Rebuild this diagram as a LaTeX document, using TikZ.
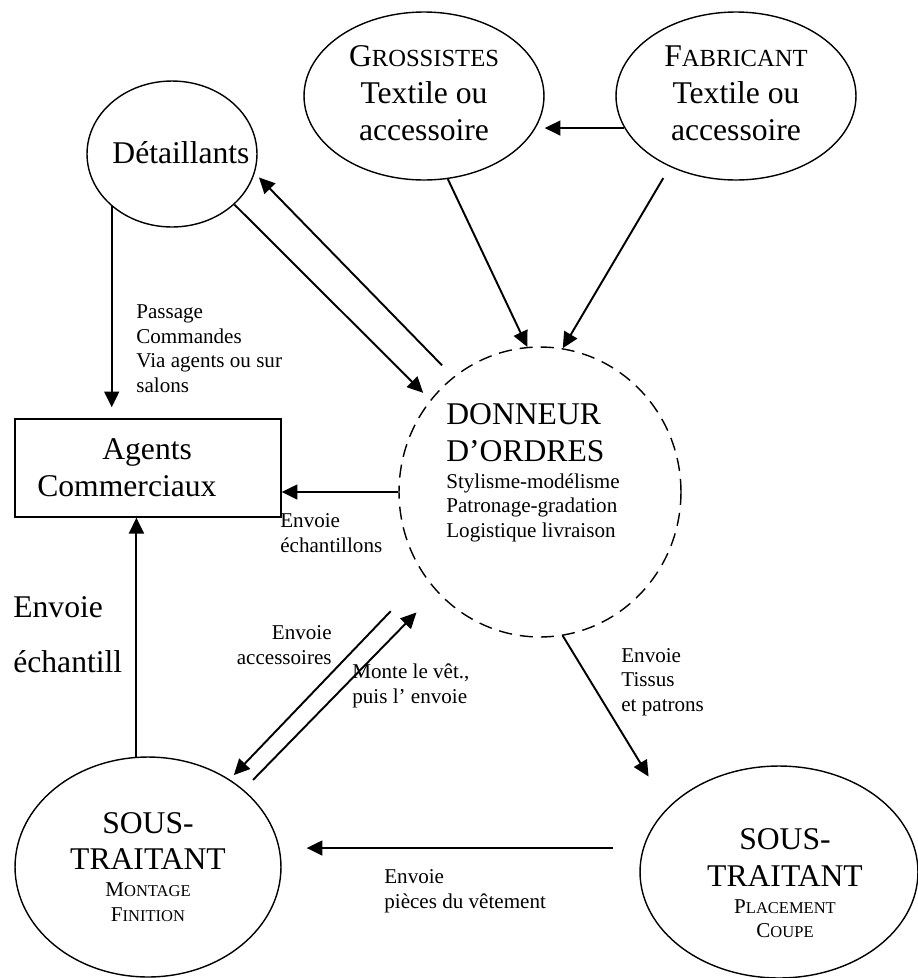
\documentclass[tikz,border=0pt]{standalone}
\usepackage{fontspec}
\setmainfont{Liberation Serif}
\usetikzlibrary{arrows.meta,shapes.geometric}
\newcommand\bigsc[2]{#1{\fontsize{14}{14}\selectfont #2}}
\newcommand\smallsc[2]{#1{\fontsize{9.4}{9.4}\selectfont #2}}
\tikzset{
  post/.style   = {-{Triangle[length=9pt,width=8.5pt]}, line width=1.1pt},
  actor/.style  = {draw, ellipse, line width=0.8pt, inner sep=0pt},
  office/.style = {draw, rectangle, line width=0.8pt},
  big/.style    = {font=\fontsize{18}{21}\selectfont},
  inside/.style = {big, align=center, inner sep=0pt},
  note/.style   = {inner sep=0pt, font=\fontsize{12}{13.9}\selectfont}
}
\begin{document}
\begin{tikzpicture}[x=0.02cm, y=-0.02cm]
  \useasboundingbox (0,0) rectangle (918,978);
  % suppliers and retailers
  \node[actor, minimum width=3.4cm, minimum height=2.92cm,
    label={[inside, xshift=0.18cm, yshift=0.02cm]center:Détaillants}] (det) at (172,154) {};
  \node[actor, minimum width=4.8cm, minimum height=3.36cm,
    label={[inside, yshift=0.06cm]center:{\bigsc{G}{ROSSISTES}\\Textile ou\\accessoire}}] (gross) at (424,96) {};
  \node[actor, minimum width=4.8cm, minimum height=3.36cm,
    label={[inside, yshift=0.06cm]center:{\bigsc{F}{ABRICANT}\\Textile ou\\accessoire}}] (fab) at (736,96) {};
  \node[office, big, minimum width=5.32cm, minimum height=1.96cm, text width=126pt,
    inner xsep=12.5pt, align=left] (agents) at (148,468) {\hspace*{37pt}Agents\\Commerciaux};
  % the principal
  \node[draw, ellipse, line width=0.8pt, dash pattern=on 7.5pt off 4.5pt,
    minimum width=5.64cm, minimum height=5.8cm] (don) at (540,492) {};
  \node[big, anchor=base west, inner sep=0pt, align=left] (dontxt) at (446,537)
    {DONNEUR\\D’ORDRES\\[-5.7pt]
     \fontsize{12}{13.9}\selectfont Stylisme-modélisme\\[-7.1pt]
     \fontsize{12}{13.9}\selectfont Patronage-gradation\\[-7.1pt]
     \fontsize{12}{13.9}\selectfont Logistique livraison};
  % subcontractors
  \node[actor, minimum width=5.32cm, minimum height=4.4cm,
    label={[inside]center:{SOUS-\\TRAITANT\\[-5.7pt]
     \fontsize{12}{13.9}\selectfont\smallsc{M}{ONTAGE}\\[-6.8pt]
     \fontsize{12}{13.9}\selectfont\smallsc{F}{INITION}}}] (st1) at (148,867) {};
  \node[actor, minimum width=5.56cm, minimum height=4.24cm,
    label={[inside, xshift=0.12cm, yshift=-0.22cm]center:{SOUS-\\TRAITANT\\[-5.7pt]
     \fontsize{12}{13.9}\selectfont\smallsc{P}{LACEMENT}\\[-7.4pt]
     \fontsize{12}{13.9}\selectfont\smallsc{C}{OUPE}}}] (st2) at (779,872) {};

  % flows
  \draw[post] (fab.196.1) -- (fab.196.1 -| gross.east);
  \draw[post] (gross.286) -- (don.95);
  \draw[post, shorten <=0.26cm] (fab.227.8) -- (don.81);
  \draw[post, shorten >=0.22cm] (det.221) -- (det.221 |- agents.north);
  \draw[post, shorten >=0.2cm] (det.-39) -- (don.140);
  \draw[post, shorten <=0.32cm, shorten >=0.12cm] (don.127) -- (det.-13.5);
  \draw[post] (don.west) -- (don.west -| agents.east);
  \draw[post] (st1.96.8) -- (st1.96.8 |- agents.south);
  \draw[post, shorten <=0.97cm, shorten >=0.12cm] (don.216.8) -- (st1.47.7);
  \draw[post, shorten <=0.27cm, shorten >=0.58cm] (st1.39.4) -- (don.224.7);
  \draw[post, shorten >=0.73cm] (don.279.2) -- (st2.150.2);
  \draw[post, shorten <=0.6cm, shorten >=0.5cm] (st2.170.8) -- (st2.170.8 -| st1.east);

  % labels
  \node[note, anchor=base west, align=left] (passage) at (136,392)
    {Passage\\Commandes\\Via agents ou sur\\salons};
  \node[note, anchor=base west, align=left] (echlbl) at (280,552) {Envoie\\échantillons};
  \node[anchor=base west, inner sep=0pt, align=left, font=\fontsize{18}{31.2}\selectfont]
    (echbig) at (13,672) {Envoie\\échantill};
  \node[note, anchor=base east, align=right] (acclbl) at (332,664) {Envoie\\accessoires};
  \node[note, anchor=base west, align=left] (montelbl) at (352,703) {Monte le vêt.,\\puis l' envoie};
  \node[note, anchor=base west, align=left] (tissulbl) at (621,711) {Envoie\\Tissus\\et patrons};
  \node[note, anchor=base west, align=left] (pieceslbl) at (384,908) {Envoie\\pièces du vêtement};
\end{tikzpicture}
\end{document}
